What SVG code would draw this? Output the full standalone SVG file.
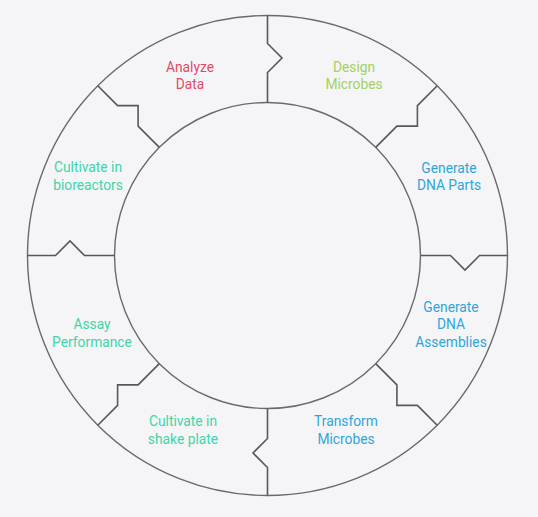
<svg xmlns="http://www.w3.org/2000/svg" width="538" height="517" viewBox="0 0 538 517">
<style>
.ring{fill:none;stroke:#6a6a6e;stroke-width:1.4}
.div{fill:none;stroke:#58585c;stroke-width:1.6;stroke-linejoin:miter}
text{font-family:Roboto,"Liberation Sans",sans-serif;font-size:13.8px;text-anchor:middle}
.red{fill:#e24a66}
.green{fill:#a2d262}
.blue{fill:#2ea6da}
.teal{fill:#3fd4aa}
</style>
<defs>
<path id="zig" class="div" d="M0,-240 L0,-212 L14.5,-197.5 L0,-183 L0,-153"/>
</defs>
<rect width="538" height="517" fill="#f5f5f7"/>
<g id="ring">
<circle class="ring" cx="267.5" cy="255.5" r="240"/>
<circle class="ring" cx="267.5" cy="255.5" r="153"/>
</g>
<g id="connectors" transform="translate(267.5,255.5)">
<use href="#zig"/>
<use href="#zig" transform="rotate(45)"/>
<use href="#zig" transform="rotate(90)"/>
<use href="#zig" transform="rotate(135)"/>
<use href="#zig" transform="rotate(180)"/>
<use href="#zig" transform="rotate(225)"/>
<use href="#zig" transform="rotate(270)"/>
<use href="#zig" transform="rotate(315)"/>
</g>
<g id="analyze"><text class="red" x="190" y="72">Analyze</text><text class="red" x="190" y="89">Data</text></g>
<g id="design"><text class="green" x="354" y="72">Design</text><text class="green" x="354" y="89">Microbes</text></g>
<g id="parts"><text class="blue" x="449" y="173">Generate</text><text class="blue" x="449" y="190">DNA Parts</text></g>
<g id="assemblies"><text class="blue" x="451" y="312">Generate</text><text class="blue" x="451" y="329">DNA</text><text class="blue" x="451" y="347">Assemblies</text></g>
<g id="transform"><text class="blue" x="346" y="426">Transform</text><text class="blue" x="346" y="444">Microbes</text></g>
<g id="shake"><text class="teal" x="183" y="426">Cultivate in</text><text class="teal" x="183" y="444">shake plate</text></g>
<g id="assay"><text class="teal" x="92" y="329">Assay</text><text class="teal" x="92" y="347">Performance</text></g>
<g id="bioreactors"><text class="teal" x="88" y="172">Cultivate in</text><text class="teal" x="88" y="190">bioreactors</text></g>
</svg>
